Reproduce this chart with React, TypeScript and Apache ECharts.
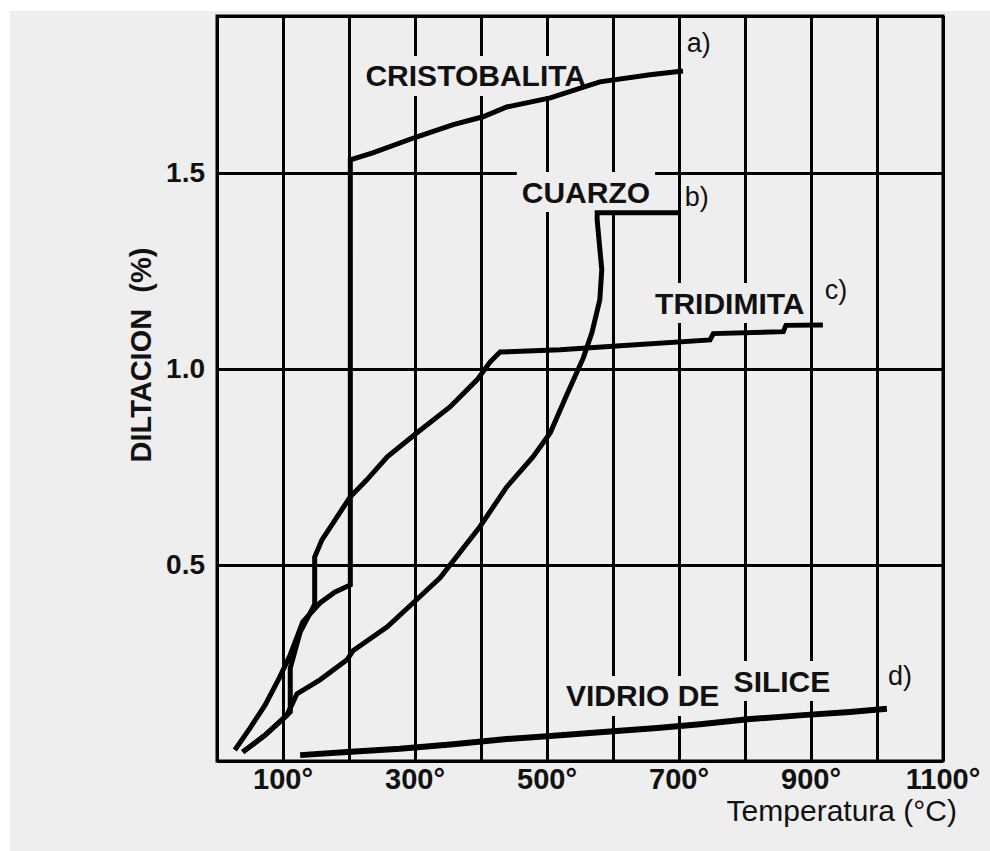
import React, { useEffect, useRef } from 'react';
import * as echarts from 'echarts';

const FONT = '"Liberation Sans", Arial, Helvetica, sans-serif';

// Axis ticks
const xTickValues = [100, 300, 500, 700, 900, 1100];
const xTickLabels = ['100°', '300°', '500°', '700°', '900°', '1100°'];
const yTickValues = [0.5, 1.0, 1.5];
const yTickLabels = ['0.5', '1.0', '1.5'];

// a) Cristobalita
const cristobalitaT = [27, 50, 73, 95, 111, 130, 156, 179, 202, 202, 236, 303, 358, 403, 439, 505, 580, 656, 706];
const cristobalitaD = [0.028, 0.084, 0.143, 0.214, 0.271, 0.355, 0.403, 0.431, 0.449, 1.533, 1.551, 1.592, 1.623, 1.643, 1.668, 1.691, 1.732, 1.75, 1.76];

// b) Cuarzo
const cuarzoT = [39, 73, 106, 121, 156, 197, 206, 258, 297, 338, 398, 439, 479, 505, 530, 555, 568, 580, 583, 576, 576, 702];
const cuarzoD = [0.023, 0.066, 0.117, 0.171, 0.207, 0.258, 0.281, 0.342, 0.403, 0.467, 0.597, 0.699, 0.776, 0.837, 0.934, 1.028, 1.092, 1.176, 1.253, 1.38, 1.398, 1.398];

// c) Tridimita
const tridimitaT = [39, 73, 106, 111, 111, 126, 145, 148, 148, 159, 179, 202, 227, 258, 303, 353, 394, 414, 429, 520, 611, 747, 752, 858, 862, 918];
const tridimitaD = [0.023, 0.066, 0.117, 0.125, 0.237, 0.329, 0.39, 0.4, 0.52, 0.564, 0.615, 0.674, 0.717, 0.776, 0.837, 0.903, 0.972, 1.018, 1.043, 1.049, 1.059, 1.074, 1.09, 1.095, 1.111, 1.112];

// d) Vidrio de sílice
const vidrioT = [126, 197, 277, 358, 439, 505, 585, 667, 732, 808, 888, 959, 1015];
const vidrioD = [0.015, 0.023, 0.031, 0.043, 0.056, 0.064, 0.074, 0.084, 0.094, 0.107, 0.117, 0.125, 0.133];

// Curve names placed in the plot
const nameTexts = ['CRISTOBALITA', 'CUARZO', 'TRIDIMITA', 'VIDRIO DE', 'SILICE'];
const nameT = [392, 559, 777, 645, 856];
const nameD = [1.747, 1.451, 1.168, 0.166, 0.204];

// Curve letters
const letterTexts = ['a)', 'b)', 'c)', 'd)'];
const letterT = [730, 727, 938, 1035];
const letterD = [1.831, 1.438, 1.201, 0.217];

const zip = (xs: number[], ys: number[]) => xs.map((x, i) => [x, ys[i]]);

export default function App() {
  const ref = useRef<HTMLDivElement>(null);
  useEffect(() => {
    if (!ref.current) return;
    const chart = echarts.init(ref.current, undefined, { renderer: 'svg' });
    const lineSeries = (name: string, data: number[][], width: number) => ({
      name,
      type: 'line',
      data,
      showSymbol: false,
      symbol: 'none',
      z: 3,
      lineStyle: { color: '#000', width, cap: 'butt', join: 'miter' },
      silent: true,
    });
    chart.setOption({
      animation: false,
      backgroundColor: '#eeeeee',
      graphic: [
        { type: 'rect', left: 0, top: 0, shape: { width: 990, height: 11 }, style: { fill: '#ffffff' }, silent: true },
        { type: 'rect', left: 0, top: 0, shape: { width: 10, height: 851 }, style: { fill: '#ffffff' }, silent: true },
      ],
      grid: {
        left: 217,
        right: 47,
        top: 16,
        bottom: 90,
        show: true,
        borderColor: '#000',
        borderWidth: 3,
        backgroundColor: 'transparent',
      },
      xAxis: {
        type: 'value',
        min: 0,
        max: 1100,
        interval: 100,
        name: 'Temperatura (°C)',
        nameLocation: 'end',
        nameGap: 14,
        nameTextStyle: {
          fontFamily: FONT,
          fontSize: 30,
          color: '#111',
          align: 'right',
          verticalAlign: 'top',
          padding: [34, 0, 0, 0],
        },
        axisLine: { show: false },
        axisTick: { show: false },
        splitLine: { show: true, lineStyle: { color: '#000', width: 3 } },
        axisLabel: {
          showMaxLabel: true,
          showMinLabel: false,
          margin: 3,
          fontFamily: FONT,
          fontSize: 29,
          fontWeight: 'bold',
          color: '#111',
          formatter: (v: number) => {
            const i = xTickValues.indexOf(Math.round(v));
            return i >= 0 ? xTickLabels[i] : '';
          },
        },
      },
      yAxis: {
        type: 'value',
        min: 0,
        max: 1.9,
        interval: 0.5,
        name: 'DILTACION  (%)',
        nameLocation: 'middle',
        nameGap: 60,
        nameTextStyle: {
          fontFamily: FONT,
          fontSize: 29,
          fontWeight: 'bold',
          color: '#111',
          padding: [0, 0, 0, 67],
        },
        axisLine: { show: false },
        axisTick: { show: false },
        splitLine: { show: true, lineStyle: { color: '#000', width: 3 } },
        axisLabel: {
          margin: 12,
          fontFamily: FONT,
          fontSize: 28,
          fontWeight: 'bold',
          color: '#111',
          formatter: (v: number) => {
            const i = yTickValues.findIndex((t) => Math.abs(t - v) < 1e-6);
            return i >= 0 ? yTickLabels[i] : '';
          },
        },
      },
      series: [
        lineSeries('Cristobalita', zip(cristobalitaT, cristobalitaD), 5),
        lineSeries('Cuarzo', zip(cuarzoT, cuarzoD), 5),
        lineSeries('Tridimita', zip(tridimitaT, tridimitaD), 5),
        lineSeries('Vidrio de sílice', zip(vidrioT, vidrioD), 6),
        {
          type: 'scatter',
          z: 1,
          silent: true,
          symbol: 'circle',
          symbolSize: 1,
          itemStyle: { color: 'transparent', opacity: 1 },
          data: nameTexts.map((n, i) => ({ name: n, value: [nameT[i], nameD[i]] })),
          label: {
            show: true,
            position: 'inside',
            formatter: '{b}',
            fontFamily: FONT,
            fontSize: 30,
            fontWeight: 'bold',
            color: '#111',
            opacity: 1,
            textBorderWidth: 0,
            lineHeight: 30,
            backgroundColor: '#eeeeee',
            padding: [5, 5, 5, 5],
          },
        },
        {
          type: 'scatter',
          z: 4,
          silent: true,
          symbol: 'circle',
          symbolSize: 1,
          itemStyle: { color: 'transparent', opacity: 1 },
          data: letterTexts.map((n, i) => ({ name: n, value: [letterT[i], letterD[i]] })),
          label: {
            show: true,
            position: 'inside',
            formatter: '{b}',
            fontFamily: FONT,
            fontSize: 27,
            color: '#111',
            opacity: 1,
            textBorderWidth: 0,
          },
        },
      ],
    });
    return () => chart.dispose();
  }, []);
  return <div ref={ref} style={{ position: 'fixed', left: 0, top: 0, width: 990, height: 851 }} />;
}
